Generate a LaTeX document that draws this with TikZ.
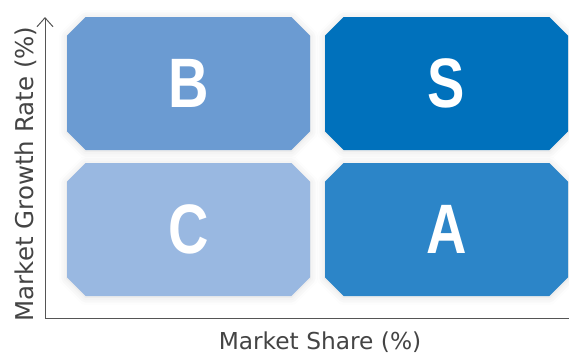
\documentclass[tikz,border=0pt]{standalone}
\usepackage{fontspec}
\setmainfont{DejaVu Sans}
\newfontfamily\letterfont{Liberation Sans}
\usetikzlibrary{shapes.misc,shadows.blur,arrows.meta}
\definecolor{cB}{HTML}{6B9BD2}
\definecolor{cS}{HTML}{0071BC}
\definecolor{cC}{HTML}{99B8E1}
\definecolor{cA}{HTML}{2C85C8}
\definecolor{axisgray}{HTML}{555555}
\definecolor{labelgray}{HTML}{444444}
\tikzset{
  quad/.style={chamfered rectangle, chamfered rectangle xsep=15pt,
    chamfered rectangle angle=45, inner sep=0pt,
    minimum width=243pt, minimum height=133pt, draw=none,
    text=white,
    blur shadow={shadow xshift=0pt, shadow yshift=-1pt, shadow blur radius=8pt, shadow opacity=14},
    font=\letterfont\bfseries\fontsize{70}{70}\selectfont},
  axisline/.style={draw=axisgray, line width=1pt},
  axislabel/.style={text=labelgray, inner sep=0pt, font=\fontsize{23.3}{27}\selectfont}
}
\newcommand{\qletter}[1]{\scalebox{0.8}[1]{#1}}
\begin{document}
\begin{tikzpicture}[x=1pt,y=-1pt]
\useasboundingbox (0,0) rectangle (569,354);
\node[quad, fill=cB] (B) at (188.5,83.5) {\qletter{B}};
\node[quad, fill=cS] (S) at (446.5,83.5) {\qletter{S}};
\node[quad, fill=cC] (C) at (188.5,229.5) {\qletter{C}};
\node[quad, fill=cA] (A) at (446.5,229.5) {\qletter{A}};
\coordinate (o) at (45,318);
\coordinate (ytop) at (45,17);
\coordinate (xend) at (569,318);
\draw[axisline, -{Straight Barb[length=9pt,width=16pt]}] (o) -- (ytop);
\draw[axisline] (o) -- (xend);
\node[axislabel, anchor=base] (xl) at (320,349) {Market Share (\%)};
\node[axislabel, anchor=base, rotate=90, font=\fontsize{24.5}{28}\selectfont] (yl) at (33,174) {Market Growth Rate (\%)};
\end{tikzpicture}
\end{document}
